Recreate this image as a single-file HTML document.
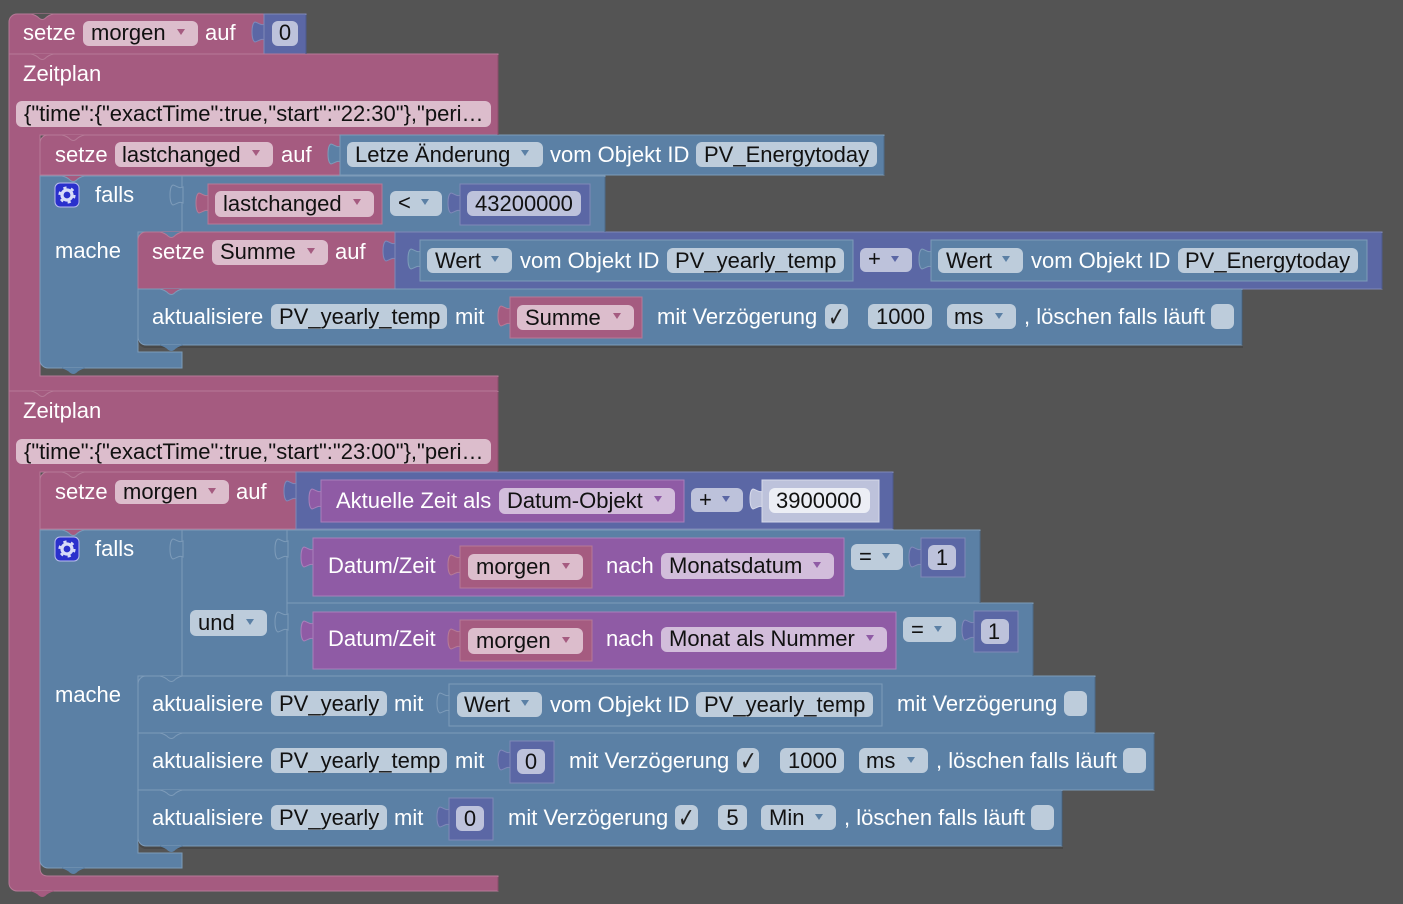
<!DOCTYPE html>
<html><head><meta charset="utf-8"><style>
html,body{margin:0;padding:0;background:#545454;width:1403px;height:904px;overflow:hidden}
svg{display:block}
text{font-family:"Liberation Sans",Arial,sans-serif;font-size:22px;fill:#fff;white-space:pre}
text.k{fill:#111}
text.c{font-family:"DejaVu Sans",sans-serif;font-size:20px;fill:#222}
.P{fill:#a55b80;stroke:#b67a97}
.B{fill:#5b80a5;stroke:#7d9bb9}
.I{fill:#5b67a5;stroke:#7f88b8}
.U{fill:#8f5ba5;stroke:#a87fba}
.L{fill:#bdc2db;stroke:#d6d9ea}
.fp{fill:#dcbdcc}.fb{fill:#bdccdb}.fi{fill:#bdc2db}.fu{fill:#d2bddb}.fw{fill:#eceef5}
.ap{fill:#a55b80}.ab{fill:#5b80a5}.ai{fill:#5b67a5}.au{fill:#8f5ba5}
</style></head><body>
<svg width="1403" height="904" viewBox="0 0 1403 904" xmlns="http://www.w3.org/2000/svg">
<defs>
<path id="t" d="M13,3 C9.5,5 7,2 3,1 C0.5,2 0,8 0,11 C0,14 0.5,20 3,21 C7,20 9.5,17 13,19 Z"/>
<path id="n" d="M0,0 q5,1 8.5,4.5 q3,2 5.5,0 q3.5,-3.5 8.5,-4.5"/>
<path id="a" d="M-4,-3 H4 L0,3 Z"/>
<g id="g">
<rect x="0" y="0" width="24" height="24" rx="5" fill="#2a30cc" stroke="#b9bdee" stroke-width="1"/>
<circle cx="12" cy="12" r="5" fill="none" stroke="#d8dcf8" stroke-width="3.2"/>
<circle cx="12" cy="12" r="7.5" fill="none" stroke="#d8dcf8" stroke-width="2.2" stroke-dasharray="3.2 4.65"/>
</g>
</defs>
<g>
<!-- top block -->
<path class="P" d="M9,22 a8,8 0 0 1 8,-8 H264 V54 H9 Z"/>
<use href="#t" x="252" y="21" class="I"/>
<path class="I" d="M264,14 H306 V54 H264 Z"/>
<use href="#n" x="31" y="14" fill="#545454" stroke="#b67a97"/>

<!-- Zeitplan 1 -->
<path class="P" d="M9,54 H498 V135 H40 V376 H498 V391 H9 Z"/>
<use href="#n" x="31" y="54" fill="#a55b80" stroke="#b67a97"/>

<!-- setze lastchanged -->
<path class="P" d="M40,143 a8,8 0 0 1 8,-8 H340 V175 H40 Z"/>
<use href="#n" x="62" y="135" fill="#a55b80" stroke="#b67a97"/>
<use href="#t" x="328" y="143" class="B"/>
<path class="B" d="M340,135 H884 V175 H340 Z"/>

<!-- falls 1 -->
<rect x="138" y="232" width="9" height="9" fill="#5b80a5"/>
<path class="B" d="M40,176 H605 V232 H138 V352 H182 V368 H48 a8,8 0 0 1 -8,-8 Z"/>
<use href="#n" x="62" y="176" fill="#a55b80" stroke="#7d9bb9"/>
<use href="#n" x="62" y="368" fill="#5b80a5" stroke="#5b80a5"/>
<path d="M182,176 V232" stroke="#7d9bb9" fill="none"/>
<use href="#t" x="170" y="184" class="B"/>
<use href="#t" x="196" y="192" class="P"/>
<rect class="P" x="208" y="184" width="174" height="40"/>
<use href="#t" x="448" y="192" class="I"/>
<rect class="I" x="460" y="184" width="130" height="41"/>

<!-- setze Summe -->
<path class="P" d="M146,232 H395 V289 H138 V240 a8,8 0 0 1 8,-8 Z"/>
<use href="#n" x="160" y="232" fill="#5b80a5" stroke="#b67a97"/>
<use href="#t" x="383" y="240" class="I"/>
<rect class="I" x="395" y="232" width="987" height="57"/>
<use href="#t" x="408" y="248" class="B"/>
<rect class="B" x="420" y="240" width="433" height="41"/>
<use href="#t" x="919" y="248" class="B"/>
<rect class="B" x="931" y="240" width="436" height="41"/>

<!-- aktualisiere 1 -->
<path d="M138,290 H1243 V348 H146 a8,8 0 0 1 -8,-8 Z" fill="#484848"/>
<path class="B" d="M138,289 H1242 V345 H146 a8,8 0 0 1 -8,-8 Z"/>
<use href="#n" x="160" y="289" fill="#a55b80" stroke="#7d9bb9"/>
<use href="#n" x="160" y="345" fill="#5b80a5" stroke="#5b80a5"/>
<use href="#t" x="498" y="305" class="P"/>
<rect class="P" x="510" y="297" width="132" height="41"/>

<!-- Zeitplan 2 -->
<path class="P" d="M9,391 H498 V472 H40 V868 q0,8 8,8 H498 V891 H17 a8,8 0 0 1 -8,-8 Z"/>
<use href="#n" x="31" y="391" fill="#a55b80" stroke="#b67a97"/>
<use href="#n" x="31" y="891" fill="#a55b80" stroke="#a55b80"/>

<!-- setze morgen -->
<path class="P" d="M40,480 a8,8 0 0 1 8,-8 H296 V529 H40 Z"/>
<use href="#n" x="62" y="472" fill="#a55b80" stroke="#b67a97"/>
<use href="#t" x="284" y="480" class="I"/>
<rect class="I" x="296" y="472" width="597" height="57"/>
<use href="#t" x="309" y="488" class="U"/>
<rect class="U" x="321" y="480" width="363" height="42"/>
<use href="#t" x="750" y="488" class="L"/>
<rect class="L" x="762" y="480" width="117" height="42"/>

<!-- falls 2 -->
<rect x="138" y="676" width="9" height="9" fill="#5b80a5"/>
<path class="B" d="M40,530 H980 V603 H1033 V676 H138 V853 H182 V868 H48 a8,8 0 0 1 -8,-8 Z"/>
<use href="#n" x="62" y="530" fill="#a55b80" stroke="#7d9bb9"/>
<use href="#n" x="62" y="868" fill="#5b80a5" stroke="#5b80a5"/>
<path d="M182,530 V676 M287,530 V676 M287,603 H1033" stroke="#7d9bb9" fill="none"/>
<use href="#t" x="170" y="538" class="B"/>
<use href="#t" x="275" y="538" class="B"/>
<use href="#t" x="275" y="611" class="B"/>
<use href="#t" x="301" y="546" class="U"/>
<rect class="U" x="313" y="538" width="531" height="58"/>
<use href="#t" x="448" y="554" class="P"/>
<rect class="P" x="460" y="546" width="132" height="42"/>
<use href="#t" x="909" y="546" class="I"/>
<rect class="I" x="921" y="538" width="44" height="39"/>
<use href="#t" x="301" y="620" class="U"/>
<rect class="U" x="313" y="612" width="583" height="57"/>
<use href="#t" x="448" y="628" class="P"/>
<rect class="P" x="460" y="620" width="132" height="41"/>
<use href="#t" x="962" y="619" class="I"/>
<rect class="I" x="974" y="611" width="44" height="41"/>

<!-- aktualisiere rows -->
<path class="B" d="M146,676 H1095 V733 H138 V684 a8,8 0 0 1 8,-8 Z"/>
<use href="#n" x="160" y="676" fill="#5b80a5" stroke="#7d9bb9"/>
<use href="#t" x="437" y="692" class="B"/>
<rect class="B" x="449" y="684" width="433" height="42"/>
<rect class="B" x="138" y="733" width="1016" height="57"/>
<use href="#n" x="160" y="733" fill="#5b80a5" stroke="#7d9bb9"/>
<use href="#t" x="498" y="749" class="I"/>
<rect class="I" x="510" y="741" width="44" height="42"/>
<path d="M138,791 H1063 V849 H146 a8,8 0 0 1 -8,-8 Z" fill="#484848"/>
<path class="B" d="M138,790 H1062 V846 H146 a8,8 0 0 1 -8,-8 Z"/>
<use href="#n" x="160" y="790" fill="#5b80a5" stroke="#7d9bb9"/>
<use href="#n" x="160" y="846" fill="#5b80a5" stroke="#5b80a5"/>
<use href="#t" x="437" y="806" class="I"/>
<rect class="I" x="449" y="798" width="44" height="42"/>

<!-- darker right edges of outer blocks -->
<path fill="none" stroke="#4d5a8c" d="M306,15 V54 M893,473 V529 M1382,233 V289"/>
<path fill="none" stroke="#4c6a89" d="M884,136 V175 M605,177 V232 M1242,290 V345 M980,531 V603 M1033,604 V676 M1095,677 V733 M1154,734 V790 M1062,791 V846"/>
<path fill="none" stroke="#8a4c6a" d="M498,55 V135 M498,377 V391 M498,392 V472 M498,877 V891"/>
</g>

<!-- row 1 -->
<text x="23" y="40">setze</text>
<rect class="fp" x="83" y="21" width="115" height="25" rx="6"/><text class="k" x="91" y="40">morgen</text><use href="#a" x="181" y="32" class="ap"/>
<text x="205" y="40">auf</text>
<rect class="fi" x="272" y="21" width="26" height="25" rx="6"/><text class="k" x="285" y="40" text-anchor="middle">0</text>

<text x="23" y="81">Zeitplan</text>
<rect class="fp" x="16" y="101" width="475" height="26" rx="6"/>
<text class="k" x="24" y="121">{"time":{"exactTime":true,"start":"22:30"},"peri…</text>

<text x="55" y="162">setze</text>
<rect class="fp" x="115" y="142" width="158" height="25" rx="6"/><text class="k" x="122" y="162">lastchanged</text><use href="#a" x="256" y="153" class="ap"/>
<text x="281" y="162">auf</text>
<rect class="fb" x="347" y="142" width="196" height="25" rx="6"/><text class="k" x="355" y="162">Letze Änderung</text><use href="#a" x="525" y="153" class="ab"/>
<text x="550" y="162">vom Objekt ID</text>
<rect class="fb" x="696" y="142" width="181" height="25" rx="6"/><text class="k" x="704" y="162">PV_Energytoday</text>

<use href="#g" x="55" y="183"/>
<text x="95" y="202">falls</text>
<text x="55" y="258">mache</text>
<rect class="fp" x="215" y="191" width="159" height="26" rx="6"/><text class="k" x="223" y="211">lastchanged</text><use href="#a" x="357" y="202" class="ap"/>
<rect class="fb" x="390" y="191" width="52" height="25" rx="6"/><text class="k" x="398" y="210">&lt;</text><use href="#a" x="425" y="202" class="ab"/>
<rect class="fi" x="467" y="191" width="114" height="25" rx="6"/><text class="k" x="475" y="211">43200000</text>

<text x="152" y="259">setze</text>
<rect class="fp" x="212" y="240" width="116" height="25" rx="6"/><text class="k" x="220" y="259">Summe</text><use href="#a" x="311" y="251" class="ap"/>
<text x="335" y="259">auf</text>
<rect class="fb" x="427" y="248" width="85" height="25" rx="6"/><text class="k" x="435" y="268">Wert</text><use href="#a" x="495" y="259" class="ab"/>
<text x="520" y="268">vom Objekt ID</text>
<rect class="fb" x="667" y="248" width="177" height="25" rx="6"/><text class="k" x="675" y="268">PV_yearly_temp</text>
<rect class="fi" x="860" y="248" width="52" height="24" rx="6"/><text class="k" x="868" y="266">+</text><use href="#a" x="895" y="259" class="ai"/>
<rect class="fb" x="938" y="248" width="85" height="25" rx="6"/><text class="k" x="946" y="268">Wert</text><use href="#a" x="1006" y="259" class="ab"/>
<text x="1031" y="268">vom Objekt ID</text>
<rect class="fb" x="1178" y="248" width="180" height="25" rx="6"/><text class="k" x="1185" y="268">PV_Energytoday</text>

<text x="152" y="324">aktualisiere</text>
<rect class="fb" x="271" y="304" width="176" height="25" rx="6"/><text class="k" x="279" y="324">PV_yearly_temp</text>
<text x="455" y="324">mit</text>
<rect class="fp" x="517" y="305" width="117" height="25" rx="6"/><text class="k" x="525" y="325">Summe</text><use href="#a" x="617" y="316" class="ap"/>
<text x="657" y="324">mit Verzögerung</text>
<rect class="fb" x="825" y="304" width="23" height="25" rx="6"/><text class="c" transform="translate(828 326) scale(1 1.35)">✓</text>
<rect class="fb" x="868" y="304" width="64" height="25" rx="6"/><text class="k" x="876" y="324">1000</text>
<rect class="fb" x="947" y="304" width="69" height="25" rx="6"/><text class="k" x="954" y="324">ms</text><use href="#a" x="999" y="316" class="ab"/>
<text x="1024" y="324">, löschen falls läuft</text>
<rect class="fb" x="1211" y="304" width="23" height="25" rx="6"/>

<!-- Zeitplan 2 -->
<text x="23" y="418">Zeitplan</text>
<rect class="fp" x="16" y="439" width="475" height="25" rx="6"/>
<text class="k" x="24" y="459">{"time":{"exactTime":true,"start":"23:00"},"peri…</text>

<text x="55" y="499">setze</text>
<rect class="fp" x="115" y="480" width="114" height="24" rx="6"/><text class="k" x="123" y="499">morgen</text><use href="#a" x="212" y="491" class="ap"/>
<text x="236" y="499">auf</text>
<text x="336" y="508">Aktuelle Zeit als</text>
<rect class="fu" x="499" y="488" width="176" height="26" rx="6"/><text class="k" x="507" y="508">Datum-Objekt</text><use href="#a" x="658" y="499" class="au"/>
<rect class="fi" x="691" y="488" width="52" height="24" rx="6"/><text class="k" x="699" y="507">+</text><use href="#a" x="726" y="499" class="ai"/>
<rect class="fw" x="769" y="488" width="101" height="25" rx="6"/><text class="k" x="776" y="508">3900000</text>

<use href="#g" x="55" y="537"/>
<text x="95" y="556">falls</text>
<text x="55" y="702">mache</text>
<rect class="fb" x="190" y="610" width="77" height="26" rx="6"/><text class="k" x="198" y="630">und</text><use href="#a" x="250" y="622" class="ab"/>

<text x="328" y="573">Datum/Zeit</text>
<rect class="fp" x="468" y="554" width="115" height="26" rx="6"/><text class="k" x="476" y="574">morgen</text><use href="#a" x="566" y="566" class="ap"/>
<text x="606" y="573">nach</text>
<rect class="fu" x="661" y="553" width="173" height="26" rx="6"/><text class="k" x="669" y="573">Monatsdatum</text><use href="#a" x="817" y="565" class="au"/>
<rect class="fb" x="851" y="544" width="52" height="26" rx="6"/><text class="k" x="859" y="564">=</text><use href="#a" x="886" y="556" class="ab"/>
<rect class="fi" x="928" y="545" width="28" height="25" rx="6"/><text class="k" x="942" y="565" text-anchor="middle">1</text>

<text x="328" y="646">Datum/Zeit</text>
<rect class="fp" x="468" y="628" width="115" height="26" rx="6"/><text class="k" x="476" y="648">morgen</text><use href="#a" x="566" y="640" class="ap"/>
<text x="606" y="646">nach</text>
<rect class="fu" x="661" y="627" width="226" height="25" rx="6"/><text class="k" x="669" y="646">Monat als Nummer</text><use href="#a" x="870" y="638" class="au"/>
<rect class="fb" x="903" y="617" width="53" height="25" rx="6"/><text class="k" x="911" y="637">=</text><use href="#a" x="938" y="629" class="ab"/>
<rect class="fi" x="981" y="619" width="28" height="25" rx="6"/><text class="k" x="994" y="639" text-anchor="middle">1</text>

<text x="152" y="711">aktualisiere</text>
<rect class="fb" x="271" y="691" width="116" height="25" rx="6"/><text class="k" x="279" y="711">PV_yearly</text>
<text x="394" y="711">mit</text>
<rect class="fb" x="457" y="692" width="85" height="25" rx="6"/><text class="k" x="464" y="712">Wert</text><use href="#a" x="525" y="703" class="ab"/>
<text x="550" y="712">vom Objekt ID</text>
<rect class="fb" x="696" y="692" width="177" height="25" rx="6"/><text class="k" x="704" y="712">PV_yearly_temp</text>
<text x="897" y="711">mit Verzögerung</text>
<rect class="fb" x="1064" y="691" width="23" height="25" rx="6"/>

<text x="152" y="768">aktualisiere</text>
<rect class="fb" x="271" y="748" width="176" height="25" rx="6"/><text class="k" x="279" y="768">PV_yearly_temp</text>
<text x="455" y="768">mit</text>
<rect class="fi" x="517" y="749" width="28" height="25" rx="6"/><text class="k" x="531" y="769" text-anchor="middle">0</text>
<text x="569" y="768">mit Verzögerung</text>
<rect class="fb" x="737" y="748" width="22" height="25" rx="6"/><text class="c" transform="translate(740 770) scale(1 1.35)">✓</text>
<rect class="fb" x="780" y="748" width="64" height="25" rx="6"/><text class="k" x="788" y="768">1000</text>
<rect class="fb" x="859" y="748" width="69" height="25" rx="6"/><text class="k" x="866" y="768">ms</text><use href="#a" x="911" y="760" class="ab"/>
<text x="936" y="768">, löschen falls läuft</text>
<rect class="fb" x="1123" y="748" width="23" height="25" rx="6"/>

<text x="152" y="825">aktualisiere</text>
<rect class="fb" x="271" y="805" width="116" height="25" rx="6"/><text class="k" x="279" y="825">PV_yearly</text>
<text x="394" y="825">mit</text>
<rect class="fi" x="456" y="806" width="28" height="25" rx="6"/><text class="k" x="470" y="826" text-anchor="middle">0</text>
<text x="508" y="825">mit Verzögerung</text>
<rect class="fb" x="675" y="805" width="23" height="25" rx="6"/><text class="c" transform="translate(678 827) scale(1 1.35)">✓</text>
<rect class="fb" x="718" y="805" width="29" height="25" rx="6"/><text class="k" x="732.5" y="825" text-anchor="middle">5</text>
<rect class="fb" x="761" y="805" width="75" height="25" rx="6"/><text class="k" x="769" y="825">Min</text><use href="#a" x="819" y="817" class="ab"/>
<text x="844" y="825">, löschen falls läuft</text>
<rect class="fb" x="1031" y="805" width="23" height="25" rx="6"/>
</svg>
</body></html>
